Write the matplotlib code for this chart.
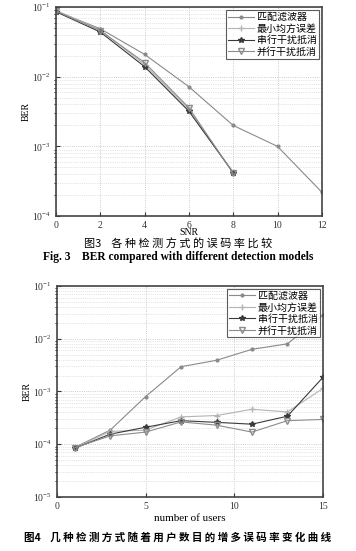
import numpy as np
import matplotlib
matplotlib.use("Agg")
import matplotlib.pyplot as plt
from matplotlib.ticker import LogLocator, FixedLocator

plt.rcParams['font.family'] = ['Liberation Serif', 'Noto Sans CJK SC']
plt.rcParams['mathtext.fontset'] = 'stix'

labels = ['匹配滤波器', '最小均方误差', '串行干扰抵消', '并行干扰抵消']
markers = ['.', '+', '*', 'v']
colors = ['#8a8a8a', '#b4b4b4', '#3a3a3a', '#8c8c8c']

# Fig. 3: BER vs SNR
snr = [0, 2, 4, 6, 8, 10, 12]
ber_mf = [0.088, 0.049, 0.021, 0.0072, 0.002, 0.001, 0.00022]
ber_mmse = [0.090, 0.047, 0.015, 0.0034, 0.00042]
ber_sic = [0.086, 0.044, 0.014, 0.0032, 0.00042]
ber_pic = [0.088, 0.046, 0.016, 0.0036, 0.00041]

# Fig. 4: BER vs number of users
users = [1, 3, 5, 7, 9, 11, 13, 15]
u_mf = [8.7e-5, 1.85e-4, 8.0e-4, 2.95e-3, 3.9e-3, 6.3e-3, 8.0e-3, 2.8e-2]
u_mmse = [8.5e-5, 1.75e-4, 1.85e-4, 3.3e-4, 3.5e-4, 4.6e-4, 4.1e-4, 1.14e-3]
u_sic = [8.4e-5, 1.55e-4, 2.1e-4, 2.8e-4, 2.6e-4, 2.4e-4, 3.4e-4, 1.85e-3]
u_pic = [8.6e-5, 1.44e-4, 1.7e-4, 2.65e-4, 2.3e-4, 1.7e-4, 2.8e-4, 2.95e-4]

fig = plt.figure(figsize=(3.56, 5.51), dpi=100)
ax1 = fig.add_axes([0.157, 0.608, 0.747, 0.379])
ax2 = fig.add_axes([0.160, 0.098, 0.747, 0.383])


def style(ax):
    ax.set_yscale('log')
    ax.grid(True, which='major', linestyle=':', color='#bbbbbb', linewidth=0.6)
    ax.grid(True, which='minor', axis='y', linestyle=':', color='#cccccc', linewidth=0.5)
    ax.tick_params(labelsize=7, direction='in', length=3, colors='#333333')
    ax.tick_params(which='minor', length=1.5)
    for s in ax.spines.values():
        s.set_color('#444444')
        s.set_linewidth(1.2)
    ax.yaxis.set_major_locator(LogLocator(base=10))


def draw(ax, x, series):
    for ys, m, c, lab in zip(series, markers, colors, labels):
        ms = 5 if m == 'v' else 4
        ax.plot(x[:len(ys)], ys, marker=m, color=c, lw=0.8, ms=ms,
                mfc='none' if m == 'v' else c, label=lab)
    leg = ax.legend(loc='upper right', frameon=True, fancybox=False,
                    handlelength=2.6, borderpad=0.2, labelspacing=0.15,
                    handletextpad=0.3, borderaxespad=0.3,
                    prop={'family': ['Noto Sans CJK SC'], 'size': 7.2})
    leg.get_frame().set_edgecolor('#333333')
    leg.get_frame().set_linewidth(0.8)


style(ax1)
draw(ax1, snr, [ber_mf, ber_mmse, ber_sic, ber_pic])
ax1.set_xlim(0, 12)
ax1.set_ylim(1e-4, 1e-1)
ax1.xaxis.set_major_locator(FixedLocator(snr))
ax1.set_xlabel('SNR', fontsize=7, labelpad=-1)
ax1.set_ylabel('BER', fontsize=7, labelpad=1)

style(ax2)
draw(ax2, users, [u_mf, u_mmse, u_sic, u_pic])
ax2.set_xlim(0, 15)
ax2.set_ylim(1e-5, 1e-1)
ax2.xaxis.set_major_locator(FixedLocator([0, 5, 10, 15]))
ax2.set_xlabel('number of users', fontsize=8, labelpad=2)
ax2.set_ylabel('BER', fontsize=7, labelpad=1)

cjk = ['Noto Sans CJK SC']
fig.text(0.5, 0.557, '图3    各 种 检 测 方 式 的 误 码 率 比 较', ha='center', va='center',
         fontsize=8, family=cjk)
fig.text(0.5, 0.533, 'Fig. 3    BER compared with different detection models',
         ha='center', va='center', fontsize=8.3, fontweight='bold')
fig.text(0.5, 0.025, '图4    几 种 检 测 方 式 随 着 用 户 数 目 的 增 多 误 码 率 变 化 曲 线',
         ha='center', va='center', fontsize=7.6, family=cjk, fontweight='bold')

fig.savefig('out.png', dpi=100)
